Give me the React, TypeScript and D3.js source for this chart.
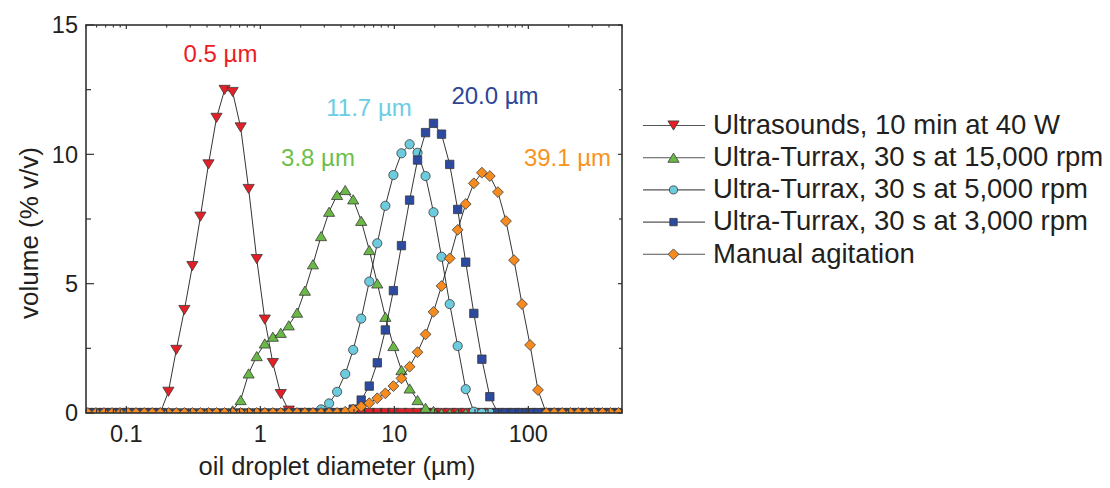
import React from "react";
import * as d3 from "d3";

// ---- data ----
const diameters = [0.0516, 0.0593, 0.0681, 0.0782, 0.0897, 0.103, 0.118, 0.136, 0.156, 0.179,
  0.206, 0.236, 0.271, 0.311, 0.357, 0.410, 0.471, 0.541, 0.621, 0.713,
  0.818, 0.940, 1.08, 1.24, 1.42, 1.63, 1.88, 2.15, 2.47, 2.84,
  3.26, 3.74, 4.30, 4.93, 5.66, 6.50, 7.46, 8.57, 9.84, 11.3,
  13.0, 14.9, 17.1, 19.6, 22.5, 25.9, 29.7, 34.1, 39.2, 45.0,
  51.6, 59.3, 68.1, 78.2, 89.7, 103, 118, 136, 156, 179,
  206, 236, 271, 311, 357, 410, 471];

const ultrasounds = [0, 0, 0, 0, 0, 0, 0, 0, 0, 0,
  0.82, 2.44, 3.98, 5.68, 7.59, 9.61, 11.41, 12.49, 12.41, 11.04,
  8.66, 5.95, 3.61, 1.93, 0.73, 0.09, 0, 0, 0, 0,
  0, 0, 0, 0, 0, 0, 0, 0, 0, 0,
  0, 0, 0, 0, 0, 0, 0, 0, 0, 0,
  0, 0, 0, 0, 0, 0, 0, 0, 0, 0,
  0, 0, 0, 0, 0, 0, 0];

const turrax15000 = [0, 0, 0, 0, 0, 0, 0, 0, 0, 0,
  0, 0, 0, 0, 0, 0, 0, 0, 0.1, 0.5,
  1.53, 2.2, 2.69, 2.95, 3.1, 3.39, 3.88, 4.73, 5.75, 6.84,
  7.78, 8.43, 8.62, 8.26, 7.43, 6.3, 5.01, 3.72, 2.59, 1.66,
  0.95, 0.5, 0.2, 0.08, 0, 0, 0, 0, 0, 0,
  0, 0, 0, 0, 0, 0, 0, 0, 0, 0,
  0, 0, 0, 0, 0, 0, 0];

const turrax5000 = [0, 0, 0, 0, 0, 0, 0, 0, 0, 0,
  0, 0, 0, 0, 0, 0, 0, 0, 0, 0,
  0, 0, 0, 0, 0, 0, 0, 0, 0, 0.14,
  0.37, 0.82, 1.51, 2.44, 3.65, 5.08, 6.56, 8.01, 9.2, 10.04,
  10.39, 10.06, 9.16, 7.76, 6.04, 4.21, 2.59, 0.92, 0.05, 0,
  0, 0, 0, 0, 0, 0, 0, 0, 0, 0,
  0, 0, 0, 0, 0, 0, 0];

const turrax3000 = [0, 0, 0, 0, 0, 0, 0, 0, 0, 0,
  0, 0, 0, 0, 0, 0, 0, 0, 0, 0,
  0, 0, 0, 0, 0, 0, 0, 0, 0, 0,
  0, 0, 0, 0.15, 0.5, 1.04, 1.94, 3.21, 4.73, 6.47,
  8.23, 9.78, 10.84, 11.2, 10.78, 9.61, 7.87, 5.83, 3.85, 2.08,
  0.63, 0, 0, 0, 0, 0, 0, 0, 0, 0,
  0, 0, 0, 0, 0, 0, 0];

const manual = [0, 0, 0, 0, 0, 0, 0, 0, 0, 0,
  0, 0, 0, 0, 0, 0, 0, 0, 0, 0,
  0, 0, 0, 0, 0, 0, 0, 0, 0, 0,
  0, 0, 0.05, 0.13, 0.25, 0.38, 0.57, 0.76, 1.04, 1.34,
  1.79, 2.35, 3.04, 3.91, 4.91, 5.98, 7.08, 8.08, 8.88, 9.29,
  9.16, 8.54, 7.42, 5.91, 4.21, 2.63, 0.89, 0, 0, 0,
  0, 0, 0, 0, 0, 0, 0];

const seriesNames = [
  "Ultrasounds, 10 min at 40 W",
  "Ultra-Turrax, 30 s at 15,000 rpm",
  "Ultra-Turrax, 30 s at 5,000 rpm",
  "Ultra-Turrax, 30 s at 3,000 rpm",
  "Manual agitation",
];
const seriesValues = [ultrasounds, turrax15000, turrax5000, turrax3000, manual];
const peakLabels = ["0.5 µm", "3.8 µm", "11.7 µm", "20.0 µm", "39.1 µm"];

const yTickValues = [0, 5, 10, 15];
const yMinorValues = [2.5, 7.5, 12.5];
const xTickValues = [0.1, 1, 10, 100];
const xTickLabels = ["0.1", "1", "10", "100"];

// ---- styles / layout ----
const FONT = "'Liberation Sans', Arial, Helvetica, sans-serif";
const markerShapes = ["down", "up", "circle", "square", "diamond"];
const fills = ["#e41f26", "#6ab845", "#6ccbdc", "#2b4aa0", "#f68b1f"];
const labelColors = ["#ec1c24", "#6dbf4a", "#6ccde2", "#2e4596", "#f7941d"];
const labelPos = [
  [220.5, 62], [318, 166], [369, 116], [495, 104], [567.5, 166],
];

const L = 86, R = 622, T = 25, B = 413;

function markerPath(shape: string, s = 1): string {
  switch (shape) {
    case "down": {
      const w = 5.6 * s, h = 4.6 * s;
      return `M${-w},${-h}L${w},${-h}L0,${h}Z`;
    }
    case "up": {
      const w = 5.6 * s, h = 4.6 * s;
      return `M${-w},${h}L${w},${h}L0,${-h}Z`;
    }
    case "square": {
      const a = 4.2 * s;
      return `M${-a},${-a}L${a},${-a}L${a},${a}L${-a},${a}Z`;
    }
    case "diamond": {
      const a = 5.4 * s;
      return `M0,${-a}L${a},0L0,${a}L${-a},0Z`;
    }
    default: {
      const r = 4.6 * s;
      return `M${r},0A${r},${r} 0 1,1 ${-r},0A${r},${r} 0 1,1 ${r},0Z`;
    }
  }
}

export default function App() {
  const x = d3.scaleLog().domain([0.05, 500]).range([L, R]);
  const y = d3.scaleLinear().domain([0, 15]).range([B, T]);
  const line = d3
    .line<[number, number]>()
    .x((d) => x(d[0]))
    .y((d) => y(d[1]));

  const xMinor: number[] = [];
  for (const dec of [0.01, 0.1, 1, 10, 100]) {
    for (let m = 2; m <= 9; m++) {
      const v = dec * m;
      if (v >= 0.05 && v <= 500 && !xTickValues.includes(v)) xMinor.push(v);
    }
  }

  const axisColor = "#333";
  const textColor = "#231f20";

  return (
    <svg
      width={1110}
      height={488}
      style={{ position: "absolute", left: 0, top: 0, background: "#fff" }}
      fontFamily={FONT}
    >
      <defs>
        <clipPath id="plotClip">
          <rect x={L} y={T} width={R - L} height={B - T} />
        </clipPath>
      </defs>
      <rect x={0} y={0} width={1110} height={488} fill="#fff" />

      {/* series */}
      <g clipPath="url(#plotClip)">
        {seriesValues.map((vals, si) => {
          const pts: [number, number][] = diameters.map((d, i) => [d, vals[i]]);
          return (
            <g key={si}>
              <path d={line(pts) || ""} fill="none" stroke="#1e1e1e" strokeWidth={0.9} />
              {pts.map((p, i) => (
                <path
                  key={i}
                  d={markerPath(markerShapes[si])}
                  transform={`translate(${x(p[0])},${y(p[1])})`}
                  fill={fills[si]}
                  stroke="#3a3a3a"
                  strokeWidth={0.8}
                />
              ))}
            </g>
          );
        })}
      </g>

      {/* frame */}
      <rect x={L} y={T} width={R - L} height={B - T} fill="none" stroke={axisColor} strokeWidth={1.6} />

      {/* y ticks */}
      {yTickValues.map((v) => (
        <g key={"yt" + v}>
          <line x1={L} x2={L + 8} y1={y(v)} y2={y(v)} stroke={axisColor} strokeWidth={1.2} />
          <line x1={R} x2={R - 4} y1={y(v)} y2={y(v)} stroke={axisColor} strokeWidth={1.2} />
          <text x={L - 8} y={y(v) + 8.4} textAnchor="end" fontSize={23.5} fill={textColor}>
            {v}
          </text>
        </g>
      ))}
      {yMinorValues.map((v) => (
        <g key={"ym" + v}>
          <line x1={L} x2={L + 5} y1={y(v)} y2={y(v)} stroke={axisColor} strokeWidth={1.2} />
          <line x1={R} x2={R - 3} y1={y(v)} y2={y(v)} stroke={axisColor} strokeWidth={1.2} />
        </g>
      ))}

      {/* x ticks */}
      {xTickValues.map((v, i) => (
        <g key={"xt" + v}>
          <line x1={x(v)} x2={x(v)} y1={B} y2={B - 7} stroke={axisColor} strokeWidth={1.2} />
          <line x1={x(v)} x2={x(v)} y1={T} y2={T + 4} stroke={axisColor} strokeWidth={1.2} />
          <text x={x(v)} y={442} textAnchor="middle" fontSize={23.5} fill={textColor}>
            {xTickLabels[i]}
          </text>
        </g>
      ))}
      {xMinor.map((v) => (
        <g key={"xm" + v}>
          <line x1={x(v)} x2={x(v)} y1={B} y2={B - 4} stroke={axisColor} strokeWidth={1.1} />
          <line x1={x(v)} x2={x(v)} y1={T} y2={T + 2.5} stroke={axisColor} strokeWidth={1.1} />
        </g>
      ))}

      {/* axis titles */}
      <text x={337} y={475} textAnchor="middle" fontSize={25.5} fill={textColor}>
        oil droplet diameter (µm)
      </text>
      <text
        transform={`translate(38,233) rotate(-90)`}
        textAnchor="middle"
        fontSize={26}
        fill={textColor}
      >
        volume (% v/v)
      </text>

      {/* peak labels */}
      {peakLabels.map((t, i) => (
        <text
          key={"pl" + i}
          x={labelPos[i][0]}
          y={labelPos[i][1]}
          textAnchor="middle"
          fontSize={24}
          fill={labelColors[i]}
        >
          {t}
        </text>
      ))}

      {/* legend */}
      {seriesNames.map((name, i) => {
        const cy = 125.5 + 32.2 * i;
        return (
          <g key={"lg" + i}>
            <line x1={643} x2={705} y1={cy} y2={cy} stroke="#555" strokeWidth={1.1} />
            <path
              d={markerPath(markerShapes[i], markerShapes[i] === "circle" ? 0.88 : markerShapes[i] === "square" ? 0.88 : 1)}
              transform={`translate(673.5,${cy})`}
              fill={fills[i]}
              stroke="#3a3a3a"
              strokeWidth={0.8}
            />
            <text x={713} y={cy + 8.3} fontSize={27.5} fill={textColor}>
              {name}
            </text>
          </g>
        );
      })}
    </svg>
  );
}
